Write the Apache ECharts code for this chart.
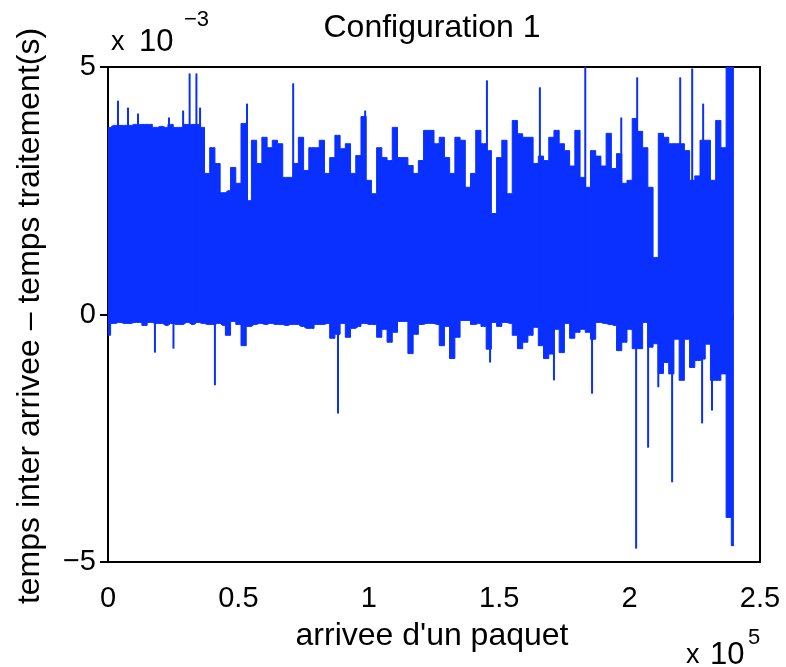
<!DOCTYPE html>
<html>
<head>
<meta charset="utf-8">
<script src="https://cdn.jsdelivr.net/npm/echarts@6/dist/echarts.min.js"></script>
<style>
html,body{margin:0;padding:0;background:#fff;}
#c{width:786px;height:667px;}
</style>
</head>
<body>
<div id="c"></div>
<script>
// ---- data (y values in units of 1e-3 s, x in packet index) ----
const sampleStep = 2000; // packets between envelope samples
const upperEnvelope = [3.78,3.82,3.82,3.82,3.82,3.84,3.84,3.84,3.84,3.78,
  3.80,3.78,3.84,3.78,3.78,3.84,3.84,3.84,3.78,2.85,
  3.37,3.05,2.46,2.50,2.97,2.65,3.86,2.30,3.52,3.05,
  3.58,3.37,3.52,3.45,2.77,2.77,3.05,3.58,2.91,3.37,
  3.37,3.52,2.85,3.17,3.62,3.35,3.45,2.85,3.21,4.00,
  2.71,2.44,3.37,3.17,3.11,3.78,3.17,3.17,3.01,2.85,
  3.11,3.72,3.72,3.45,3.58,3.17,2.85,3.58,3.52,2.57,
  2.85,3.72,3.45,3.31,2.04,3.17,3.52,2.44,3.92,3.65,
  3.58,3.58,3.05,3.20,3.11,3.58,3.72,3.45,3.31,3.00,
  3.72,2.77,2.57,3.31,3.20,3.00,3.66,2.95,3.25,2.65,
  2.71,3.96,3.70,3.37,2.57,1.15,3.66,3.58,3.45,3.45,
  3.45,3.31,2.71,2.80,3.52,3.52,2.71,3.92,3.37,5.00,
  5.00];
const lowerEnvelope = [-0.42,-0.18,-0.16,-0.18,-0.18,-0.16,-0.16,-0.22,-0.16,-0.18,
  -0.18,-0.22,-0.18,-0.20,-0.20,-0.16,-0.20,-0.16,-0.18,-0.20,
  -0.20,-0.18,-0.22,-0.42,-0.14,-0.20,-0.63,-0.24,-0.20,-0.18,
  -0.20,-0.18,-0.20,-0.20,-0.22,-0.20,-0.20,-0.24,-0.28,-0.28,
  -0.20,-0.20,-0.18,-0.48,-0.40,-0.18,-0.46,-0.28,-0.24,-0.18,
  -0.20,-0.20,-0.46,-0.30,-0.56,-0.36,-0.14,-0.14,-0.79,-0.40,
  -0.20,-0.18,-0.18,-0.20,-0.63,-0.24,-0.89,-0.46,-0.12,-0.12,
  -0.20,-0.18,-0.24,-0.70,-0.16,-0.24,-0.16,-0.18,-0.42,-0.69,
  -0.56,-0.42,-0.26,-0.63,-0.89,-0.80,-0.30,-0.77,-0.18,-0.48,
  -0.36,-0.30,-0.36,-0.50,-0.16,-0.18,-0.20,-0.22,-0.73,-0.56,
  -0.30,-0.69,-0.69,-0.16,-0.66,-0.59,-1.19,-0.97,-1.20,-0.50,
  -1.33,-0.50,-1.07,-0.93,-0.90,-0.60,-1.33,-1.33,-1.20,-4.10,
  -4.67];
const spikeX = [3835,7670,11500,23400,28800,31300,33900,35300,53300,71000,98600,145300,165600,183000,196800,202900,219400,224000,228200,
  18000,25100,41000,52300,88200,115400,131200,146500,171000,185600,202500,207100,211000,216300,227800,231600];
const spikeV = [4.32,4.18,4.06,3.98,4.12,4.87,4.87,4.18,4.26,4.67,4.12,4.73,4.59,5.0,3.98,4.79,4.79,4.97,4.26,
  -0.77,-0.69,-1.43,-0.63,-2.0,-0.79,-0.89,-0.97,-1.33,-1.6,-4.73,-2.69,-1.47,-3.39,-2.2,-1.94];
const xTicks = [0, 50000, 100000, 150000, 200000, 250000];
const xTickLabels = ['0','0.5','1','1.5','2','2.5'];
const yTickLabels = {'-5':'\u22125','0':'0','5':'5'};

const blue = '#0a30ff';
const font = 'Liberation Sans, Arial, Helvetica, sans-serif';

const upperData = upperEnvelope.map((v,i)=>[i*sampleStep, v]);
const lowerData = lowerEnvelope.map((v,i)=>[i*sampleStep, v]);
const spikeData = spikeX.map((x,i)=>[x, spikeV[i]]);

const chart = echarts.init(document.getElementById('c'), null, {renderer:'canvas'});
const tick = {show:true, inside:true, length:8, lineStyle:{color:'#000', width:2}};
chart.setOption({
  animation:false,
  backgroundColor:'#fff',
  grid:{left:108, top:67, width:652, height:495, show:true, borderColor:'#000', borderWidth:2, backgroundColor:'transparent'},
  xAxis:[{
    type:'value', min:0, max:250000, interval:50000, position:'bottom',
    axisLine:{show:false}, axisTick:tick, splitLine:{show:false},
    axisLabel:{margin:22, color:'#000', fontSize:29, fontFamily:font,
      formatter:(v)=>{const k=xTicks.indexOf(v);return k>=0?xTickLabels[k]:'';}}
  },{
    type:'value', min:0, max:250000, interval:50000, position:'top',
    axisLine:{show:false}, axisTick:tick, splitLine:{show:false}, axisLabel:{show:false}
  }],
  yAxis:[{
    type:'value', min:-5, max:5, interval:5, position:'left',
    axisLine:{show:false}, axisTick:tick, splitLine:{show:false},
    axisLabel:{margin:12, color:'#000', fontSize:29, fontFamily:font,
      formatter:(v)=>yTickLabels[String(v)]}
  },{
    type:'value', min:-5, max:5, interval:5, position:'right',
    axisLine:{show:false}, axisTick:tick, splitLine:{show:false}, axisLabel:{show:false}
  }],
  series:[
    {type:'line', data:upperData, step:'middle', symbol:'none', lineStyle:{color:blue, width:1},
     areaStyle:{color:blue, opacity:1, origin:-0.1}, z:2},
    {type:'line', data:lowerData, step:'middle', symbol:'none', lineStyle:{color:blue, width:1},
     areaStyle:{color:blue, opacity:1, origin:0}, z:2},
    {type:'bar', data:spikeData, barWidth:2, itemStyle:{color:blue}, z:3}
  ],
  graphic:[
    {type:'text', x:432, y:28, style:{text:'Configuration 1', font:'32px '+font, fill:'#000', textAlign:'center', textVerticalAlign:'middle'}},
    {type:'text', x:111, y:43, style:{text:'x', font:'27px '+font, fill:'#000', textAlign:'left', textVerticalAlign:'middle'}},
    {type:'text', x:139, y:42, style:{text:'10', font:'31px '+font, fill:'#000', textAlign:'left', textVerticalAlign:'middle'}},
    {type:'text', x:184, y:20, style:{text:'\u22123', font:'22px '+font, fill:'#000', textAlign:'left', textVerticalAlign:'middle'}},
    {type:'text', x:30, y:316, rotation:Math.PI/2, style:{text:'temps inter arrivee \u2013 temps traitement(s)', font:'32px '+font, fill:'#000', textAlign:'center', textVerticalAlign:'middle'}},
    {type:'text', x:432, y:636, style:{text:"arrivee d'un paquet", font:'32px '+font, fill:'#000', textAlign:'center', textVerticalAlign:'middle'}},
    {type:'text', x:686, y:656, style:{text:'x', font:'27px '+font, fill:'#000', textAlign:'left', textVerticalAlign:'middle'}},
    {type:'text', x:710, y:655, style:{text:'10', font:'31px '+font, fill:'#000', textAlign:'left', textVerticalAlign:'middle'}},
    {type:'text', x:748, y:638, style:{text:'5', font:'22px '+font, fill:'#000', textAlign:'left', textVerticalAlign:'middle'}}
  ]
});
</script>
</body>
</html>
